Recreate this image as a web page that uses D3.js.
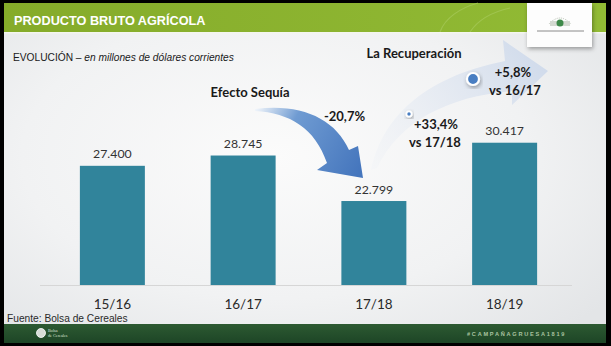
<!DOCTYPE html>
<html><head><meta charset="utf-8">
<script src="https://cdn.jsdelivr.net/npm/d3@7"></script>
<style>
html,body{margin:0;padding:0;background:#000;}
svg{display:block;}
</style></head>
<body>
<script>
// ---- data ----
const categories = ["15/16", "16/17", "17/18", "18/19"];
const values = [27400, 28745, 22799, 30417];
const valueLabels = ["27.400", "28.745", "22.799", "30.417"];
const title = "PRODUCTO BRUTO AGRÍCOLA";
const subtitleA = "EVOLUCIÓN – ";
const subtitleB = "en millones de dólares corrientes";
const source = "Fuente: Bolsa de Cereales";
const hashtag = "#CAMPAÑAGRUESA1819";
const annotations = [
  {text: "La Recuperación", x: 414, y: 57.5},
  {text: "Efecto Sequía", x: 250, y: 96.5},
  {text: "-20,7%", x: 344.5, y: 120.5},
  {text: "+33,4%", x: 436, y: 128.5},
  {text: "vs 17/18", x: 435, y: 146.5},
  {text: "+5,8%", x: 513, y: 76.5},
  {text: "vs 16/17", x: 515, y: 94.5}
];

const W = 611, H = 346;
const svg = d3.select("body").append("svg").attr("width", W).attr("height", H);
const defs = svg.append("defs");

// gradients
const bg = defs.append("radialGradient").attr("id","bg").attr("cx","45%").attr("cy","45%").attr("r","70%");
bg.append("stop").attr("offset","0%").attr("stop-color","#fbfbfb");
bg.append("stop").attr("offset","60%").attr("stop-color","#f1f2f3");
bg.append("stop").attr("offset","100%").attr("stop-color","#e3e5e7");

const hg = defs.append("linearGradient").attr("id","hg").attr("x1","0").attr("x2","1");
hg.append("stop").attr("offset","0%").attr("stop-color","#85ab2a");
hg.append("stop").attr("offset","100%").attr("stop-color","#92bb35");

const fg = defs.append("linearGradient").attr("id","fg").attr("x1","0").attr("x2","0").attr("y1","0").attr("y2","1");
fg.append("stop").attr("offset","0%").attr("stop-color","#2d5a32");
fg.append("stop").attr("offset","100%").attr("stop-color","#1d4526");

const ag = defs.append("linearGradient").attr("id","ag").attr("gradientUnits","userSpaceOnUse")
  .attr("x1",250).attr("y1",110).attr("x2",360).attr("y2",170);
ag.append("stop").attr("offset","0%").attr("stop-color","#ffffff");
ag.append("stop").attr("offset","35%").attr("stop-color","#6f9bd2");
ag.append("stop").attr("offset","100%").attr("stop-color","#4576bd");

const rg = defs.append("linearGradient").attr("id","rg").attr("gradientUnits","userSpaceOnUse")
  .attr("x1",372).attr("y1",170).attr("x2",545).attr("y2",55);
rg.append("stop").attr("offset","0%").attr("stop-color","#f2f4f7").attr("stop-opacity",0.5);
rg.append("stop").attr("offset","100%").attr("stop-color","#cfdaeb");

const sh = defs.append("filter").attr("id","sh").attr("x","-30%").attr("y","-30%").attr("width","160%").attr("height","160%");
sh.append("feDropShadow").attr("dx",1).attr("dy",2).attr("stdDeviation",2).attr("flood-color","#000").attr("flood-opacity",0.35);

// slide
svg.append("rect").attr("x",4).attr("y",3).attr("width",602).attr("height",340).attr("fill","url(#bg)");
// header
svg.append("rect").attr("x",4).attr("y",3).attr("width",602).attr("height",29).attr("fill","url(#hg)");
svg.append("path").attr("d","M440,32 C445,18 460,8 478,3 M470,32 C478,20 492,12 510,8")
  .attr("fill","none").attr("stroke","#a6c95a").attr("stroke-width",1.2).attr("opacity",0.7);
svg.append("rect").attr("x",4).attr("y",32).attr("width",602).attr("height",1.5).attr("fill","#f4f6ee");
svg.append("text").attr("x",14).attr("y",25).attr("fill","#fff")
  .attr("font-family","Liberation Sans, Arial, sans-serif").attr("font-weight","bold").attr("font-size",12.7)
  .text(title);

// subtitle
const st = svg.append("text").attr("x",13).attr("y",60.5).attr("fill","#1a1a1a")
  .attr("font-family","Liberation Sans, Arial, sans-serif").attr("font-size",10.2);
st.append("tspan").text(subtitleA);
st.append("tspan").attr("font-style","italic").text(subtitleB);

// recovery arrow (pale)
svg.append("path")
  .attr("d","M371,170 C382,120 420,78 505,61 L503,40 L548,71 L512,105 L512,91 C450,96 400,120 377,168 Z")
  .attr("fill","url(#rg)");

// scales
const x = d3.scaleBand().domain(categories).range([47,570]).paddingInner(0.503).paddingOuter(0.2515);
const y = d3.scaleLinear().domain([11826, 32000]).range([285, 285 - (32000-11826)*0.007653]);

// bars
svg.append("g").selectAll("rect").data(values).join("rect")
  .attr("x",(d,i)=>x(categories[i])).attr("width",x.bandwidth())
  .attr("y",d=>y(d)).attr("height",d=>y.range()[0]-y(d))
  .attr("fill","#31849b");

// value labels
svg.append("g").selectAll("text").data(values).join("text")
  .attr("x",(d,i)=>x(categories[i])+x.bandwidth()/2).attr("y",d=>y(d)-7.5)
  .attr("text-anchor","middle").attr("fill","#333")
  .attr("font-family","Lato, sans-serif").attr("font-size",12.3)
  .text((d,i)=>valueLabels[i]);

// axis
svg.append("line").attr("x1",40).attr("x2",572).attr("y1",285.5).attr("y2",285.5)
  .attr("stroke","#d6d6d6").attr("stroke-width",1);
const ax = svg.append("g").attr("transform","translate(0,285)")
  .call(d3.axisBottom(x).tickSize(0).tickPadding(0));
ax.select(".domain").remove();
ax.selectAll("text").attr("y",24).attr("dy",0).attr("fill","#2a2a2a")
  .attr("font-family","Lato, sans-serif").attr("font-size",13.5);

// drought arrow
svg.append("path")
  .attr("d","M255,109 C300,103 335,118 349,150 L358,146 L363,178 L317,170 L327,163 C315,128 290,113 255,111 Z")
  .attr("fill","url(#ag)");

// dots
svg.append("circle").attr("cx",473).attr("cy",79).attr("r",6).attr("fill","#4a7ec2")
  .attr("stroke","#fff").attr("stroke-width",2.2).attr("filter","url(#sh)");
svg.append("circle").attr("cx",409).attr("cy",114).attr("r",2.6).attr("fill","#4a7ec2")
  .attr("stroke","#fff").attr("stroke-width",1.8).attr("filter","url(#sh)");

// annotations
svg.append("g").selectAll("text").data(annotations).join("text")
  .attr("x",d=>d.x).attr("y",d=>d.y).attr("text-anchor","middle").attr("fill","#1a1a1a")
  .attr("font-family","Lato, sans-serif").attr("font-weight","bold").attr("font-size",13)
  .text(d=>d.text);

// logo box
svg.append("rect").attr("x",527).attr("y",3).attr("width",65).attr("height",44).attr("fill","#fdfdfd").attr("filter","url(#sh)");
svg.append("path").attr("d","M549,24 Q560,12 571,24").attr("fill","none").attr("stroke","#b9c2b4").attr("stroke-width",1).attr("stroke-dasharray","1,1");
svg.append("rect").attr("x",550).attr("y",21).attr("width",20).attr("height",5).attr("fill","#d5dad2");
svg.append("circle").attr("cx",560).attr("cy",23).attr("r",3.5).attr("fill","#3f8a4a");
svg.append("line").attr("x1",537).attr("x2",584).attr("y1",31).attr("y2",31).attr("stroke","#8a8a8a").attr("stroke-width",1);

// source
svg.append("text").attr("x",7).attr("y",322).attr("fill","#2a2a2a")
  .attr("font-family","Liberation Sans, Arial, sans-serif").attr("font-size",10.2).text(source);

// footer band
svg.append("rect").attr("x",4).attr("y",324).attr("width",602).attr("height",19).attr("fill","url(#fg)");
svg.append("circle").attr("cx",41).attr("cy",333).attr("r",4.5).attr("fill","#d8dcd8").attr("stroke","#fff").attr("stroke-width",0.8);
const fl = svg.append("text").attr("x",48).attr("fill","#dfe5dd").attr("font-family","Liberation Serif, serif").attr("font-size",4.2);
fl.append("tspan").attr("x",48).attr("y",332).text("Bolsa");
fl.append("tspan").attr("x",48).attr("y",336.5).text("de Cereales");
svg.append("text").attr("x",467).attr("y",335.5).attr("fill","#a9c3a0")
  .attr("font-family","Liberation Sans, Arial, sans-serif").attr("font-weight","bold").attr("font-size",5.6)
  .attr("letter-spacing",1.75).text(hashtag);
</script>
</body></html>
